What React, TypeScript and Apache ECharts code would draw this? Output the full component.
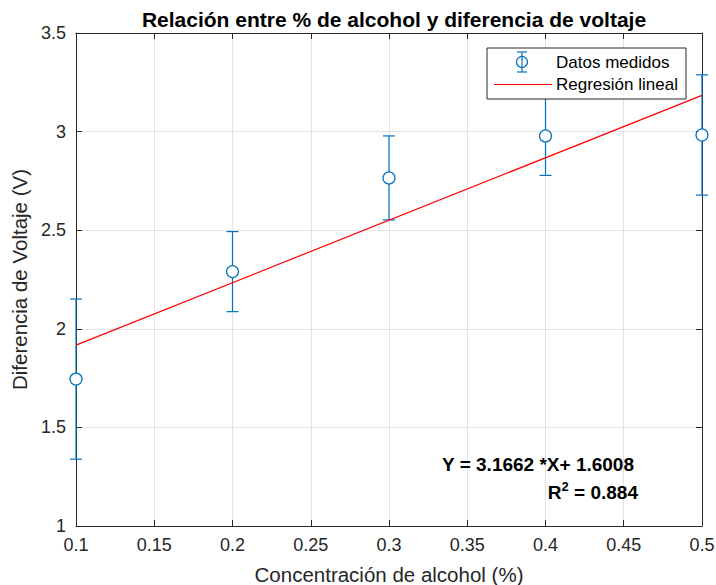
import React, { useEffect, useRef } from "react";
import * as echarts from "echarts";

const concentrations = [0.1, 0.2, 0.3, 0.4, 0.5];
const voltages = [1.745, 2.29, 2.765, 2.978, 2.983];
const errors = [0.406, 0.203, 0.213, 0.2, 0.305];
const regressionX = [0.1, 0.5];
const regressionY = [1.9174, 3.1839];
const xTicks = [0.1, 0.15, 0.2, 0.25, 0.3, 0.35, 0.4, 0.45, 0.5];
const yTicks = [1, 1.5, 2, 2.5, 3, 3.5];

const BLUE = "#0072BD";
const AX = "#262626";
const FONT = "Liberation Sans, Arial, Helvetica, sans-serif";

export default function App() {
  const ref = useRef<HTMLDivElement>(null);
  useEffect(() => {
    const chart = echarts.init(ref.current!, null, { renderer: "svg" });
    const fmt = (v: number) => String(Number(v.toFixed(2)));
    const baseX = {
      type: "value" as const,
      min: 0.1,
      max: 0.5,
      interval: 0.05,
      splitLine: { show: true, lineStyle: { color: "#e3e3e3", width: 1 } },
      axisLine: { show: true, lineStyle: { color: AX, width: 1 } },
      axisTick: { show: true, inside: true, length: 6, lineStyle: { color: AX } },
    };
    const baseY = {
      type: "value" as const,
      min: 1,
      max: 3.5,
      interval: 0.5,
      splitLine: { show: true, lineStyle: { color: "#e3e3e3", width: 1 } },
      axisLine: { show: true, lineStyle: { color: AX, width: 1 } },
      axisTick: { show: true, inside: true, length: 6, lineStyle: { color: AX } },
    };
    const errData = concentrations.map((x, i) => [x, voltages[i] - errors[i], voltages[i] + errors[i]]);
    chart.setOption({
      animation: false,
      textStyle: { fontFamily: FONT },
      title: {
        text: "Relación entre % de alcohol y diferencia de voltaje",
        left: 389,
        textAlign: "center",
        top: 4,
        textStyle: { fontSize: 21, fontWeight: "bold", color: "#000", fontFamily: FONT },
      },
      grid: { left: 76, right: 14, top: 33, bottom: 59, show: false, containLabel: false, outerBoundsMode: "none" },
      xAxis: [
        {
          ...baseX,
          position: "bottom",
          name: "Concentración de alcohol (%)",
          nameLocation: "middle",
          nameGap: 38,
          nameTextStyle: { fontSize: 20.5, color: AX, fontFamily: FONT },
          axisLabel: {
            fontSize: 18,
            color: AX,
            margin: 10,
            fontFamily: FONT,
            formatter: (v: number) => (xTicks.some((t) => Math.abs(t - v) < 1e-9) ? fmt(v) : ""),
          },
        },
        { ...baseX, position: "top", splitLine: { show: false }, axisLabel: { show: false } },
      ],
      yAxis: [
        {
          ...baseY,
          position: "left",
          name: "Diferencia de Voltaje (V)",
          nameLocation: "middle",
          nameGap: 39,
          nameTextStyle: { fontSize: 20.5, color: AX, fontFamily: FONT },
          axisLabel: {
            fontSize: 18,
            color: AX,
            margin: 10,
            fontFamily: FONT,
            formatter: (v: number) => (yTicks.some((t) => Math.abs(t - v) < 1e-9) ? fmt(v) : ""),
          },
        },
        { ...baseY, position: "right", splitLine: { show: false }, axisLabel: { show: false } },
      ],
      series: [
        {
          type: "custom",
          name: "err",
          clip: false,
          data: errData,
          renderItem: (params: any, api: any) => {
            const x = api.value(0);
            const lo = api.coord([x, api.value(1)]);
            const hi = api.coord([x, api.value(2)]);
            const w = 6;
            const style = { stroke: BLUE, lineWidth: 1.2 };
            return {
              type: "group",
              children: [
                { type: "line", shape: { x1: lo[0], y1: lo[1], x2: hi[0], y2: hi[1] }, style },
                { type: "line", shape: { x1: lo[0] - w, y1: lo[1], x2: lo[0] + w, y2: lo[1] }, style },
                { type: "line", shape: { x1: hi[0] - w, y1: hi[1], x2: hi[0] + w, y2: hi[1] }, style },
              ],
            };
          },
          z: 2,
        },
        {
          type: "scatter",
          name: "Datos medidos",
          data: concentrations.map((x, i) => [x, voltages[i]]),
          symbol: "circle",
          symbolSize: 12,
          itemStyle: { color: "#fff", opacity: 1, borderColor: BLUE, borderWidth: 1.2 },
          clip: false,
          z: 3,
        },
        {
          type: "line",
          name: "Regresión lineal",
          data: regressionX.map((x, i) => [x, regressionY[i]]),
          symbol: "none",
          lineStyle: { color: "#FF0000", width: 1.2 },
          z: 4,
        },
      ],
      graphic: [
        {
          type: "rect",
          shape: { x: 487, y: 48, width: 199, height: 51 },
          style: { fill: "#fff", stroke: AX, lineWidth: 1 },
          z: 100,
        },
        { type: "line", shape: { x1: 522, y1: 52, x2: 522, y2: 72 }, style: { stroke: BLUE, lineWidth: 1.2 }, z: 101 },
        { type: "line", shape: { x1: 517, y1: 52, x2: 527, y2: 52 }, style: { stroke: BLUE, lineWidth: 1.2 }, z: 101 },
        { type: "line", shape: { x1: 517, y1: 72, x2: 527, y2: 72 }, style: { stroke: BLUE, lineWidth: 1.2 }, z: 101 },
        { type: "circle", shape: { cx: 522, cy: 62, r: 5.5 }, style: { fill: "none", stroke: BLUE, lineWidth: 1.2 }, z: 102 },
        {
          type: "text",
          x: 556,
          y: 62,
          style: { text: "Datos medidos", fontSize: 17, fill: "#000", fontFamily: FONT, verticalAlign: "middle" },
          z: 101,
        },
        { type: "line", shape: { x1: 494, y1: 84.5, x2: 552, y2: 84.5 }, style: { stroke: "#FF0000", lineWidth: 1.2 }, z: 101 },
        {
          type: "text",
          x: 556,
          y: 84,
          style: { text: "Regresión lineal", fontSize: 17, fill: "#000", fontFamily: FONT, verticalAlign: "middle" },
          z: 101,
        },
        {
          type: "text",
          x: 634,
          y: 464,
          style: {
            text: "Y = 3.1662 *X+ 1.6008",
            fontSize: 19,
            fontWeight: "bold",
            fill: "#000",
            fontFamily: FONT,
            align: "right",
            verticalAlign: "middle",
          },
          z: 101,
        },
        {
          type: "text",
          x: 638,
          y: 491,
          style: {
            text: "{b|R}{s|2}{b| = 0.884}",
            align: "right",
            verticalAlign: "middle",
            rich: {
              b: { fontSize: 19, fontWeight: "bold", fill: "#000", fontFamily: FONT, verticalAlign: "bottom" },
              s: { fontSize: 13, fontWeight: "bold", fill: "#000", fontFamily: FONT, verticalAlign: "top", padding: [0, 0, 9, 0] },
            },
          },
          z: 101,
        },
      ],
    });
    return () => chart.dispose();
  }, []);
  return <div ref={ref} style={{ width: 716, height: 585, position: "absolute", left: 0, top: 0 }} />;
}
